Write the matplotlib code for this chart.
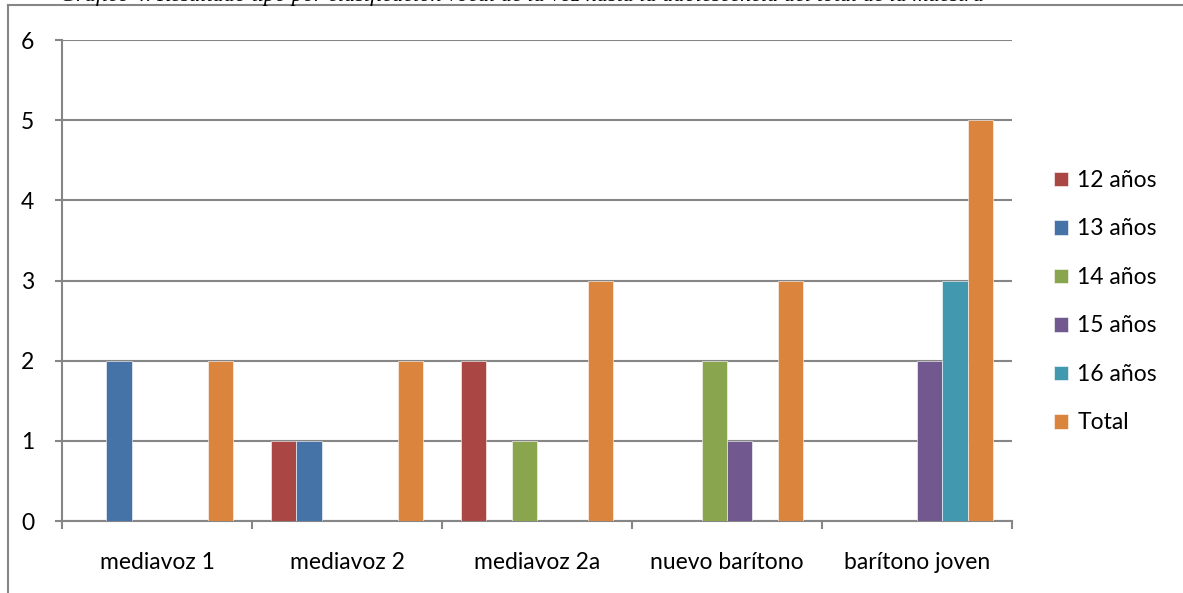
import numpy as np
import matplotlib.pyplot as plt
from matplotlib.lines import Line2D

plt.rcParams['font.family'] = ['Lato', 'DejaVu Sans']

categorias = ['mediavoz 1', 'mediavoz 2', 'mediavoz 2a', 'nuevo barítono', 'barítono joven']
series = ['12 años', '13 años', '14 años', '15 años', '16 años', 'Total']
anos_12 = [0, 1, 2, 0, 0]
anos_13 = [2, 1, 0, 0, 0]
anos_14 = [0, 0, 1, 2, 0]
anos_15 = [0, 0, 0, 1, 2]
anos_16 = [0, 0, 0, 0, 3]
total = [2, 2, 3, 3, 5]
colores = ['#AA4643', '#4572A7', '#89A54E', '#71588F', '#4198AF', '#DB843D']

W, H = 1183, 593
fs = 16.5
fig = plt.figure(figsize=(W / 100, H / 100), dpi=100)
ax = fig.add_axes([62 / W, 1 - 521 / H, 950 / W, 481 / H])

x = np.arange(len(categorias))
ancho = 1 / 7.5
valores = [anos_12, anos_13, anos_14, anos_15, anos_16, total]
for i, (nombre, vals, c) in enumerate(zip(series, valores, colores)):
    pos = x - 0.5 + 0.1 + ancho * (i + 0.5)
    ax.bar(pos, vals, width=ancho, color=c, edgecolor='white', linewidth=0.4,
           label=nombre, zorder=3)

gris = '#868686'
ax.set_xlim(-0.5, len(categorias) - 0.5)
ax.set_ylim(0, 6)
ax.set_yticks(range(7))
ax.yaxis.grid(True, color=gris, linewidth=1.5, zorder=0)
for lado in ['top', 'right']:
    ax.spines[lado].set_visible(False)
for lado in ['left', 'bottom']:
    ax.spines[lado].set_color(gris)
    ax.spines[lado].set_linewidth(1.5)

ax.set_xticks(x)
ax.set_xticklabels(categorias)
ax.set_xticks(np.arange(-0.5, len(categorias)), minor=True)
ax.tick_params(axis='x', which='major', length=0, pad=22, labelsize=fs)
ax.tick_params(axis='x', which='minor', length=6, width=1.5, color=gris)
ax.tick_params(axis='y', length=5, width=1.5, color=gris, pad=15, labelsize=fs)

ax.legend(loc='center left', bbox_to_anchor=(1.023, 0.456), frameon=False,
          fontsize=fs, handlelength=0.6, handleheight=0.6, handletextpad=0.4,
          labelspacing=1.2)

# marco exterior del gráfico
fig.add_artist(Line2D([8 / W, 1], [1 - 5 / H, 1 - 5 / H], color=gris, linewidth=1.5))
fig.add_artist(Line2D([8 / W, 8 / W], [0, 1 - 5 / H], color=gris, linewidth=1.5))

fig.text(60 / W, 1 - 1 / H,
         'Gráfico 4. Resultado tipo por clasificación vocal de la voz hasta la adolescencia del total de la muestra',
         family=['Liberation Serif', 'DejaVu Serif'], style='italic', fontsize=16,
         va='baseline', ha='left')

fig.savefig('out.png', dpi=100)
